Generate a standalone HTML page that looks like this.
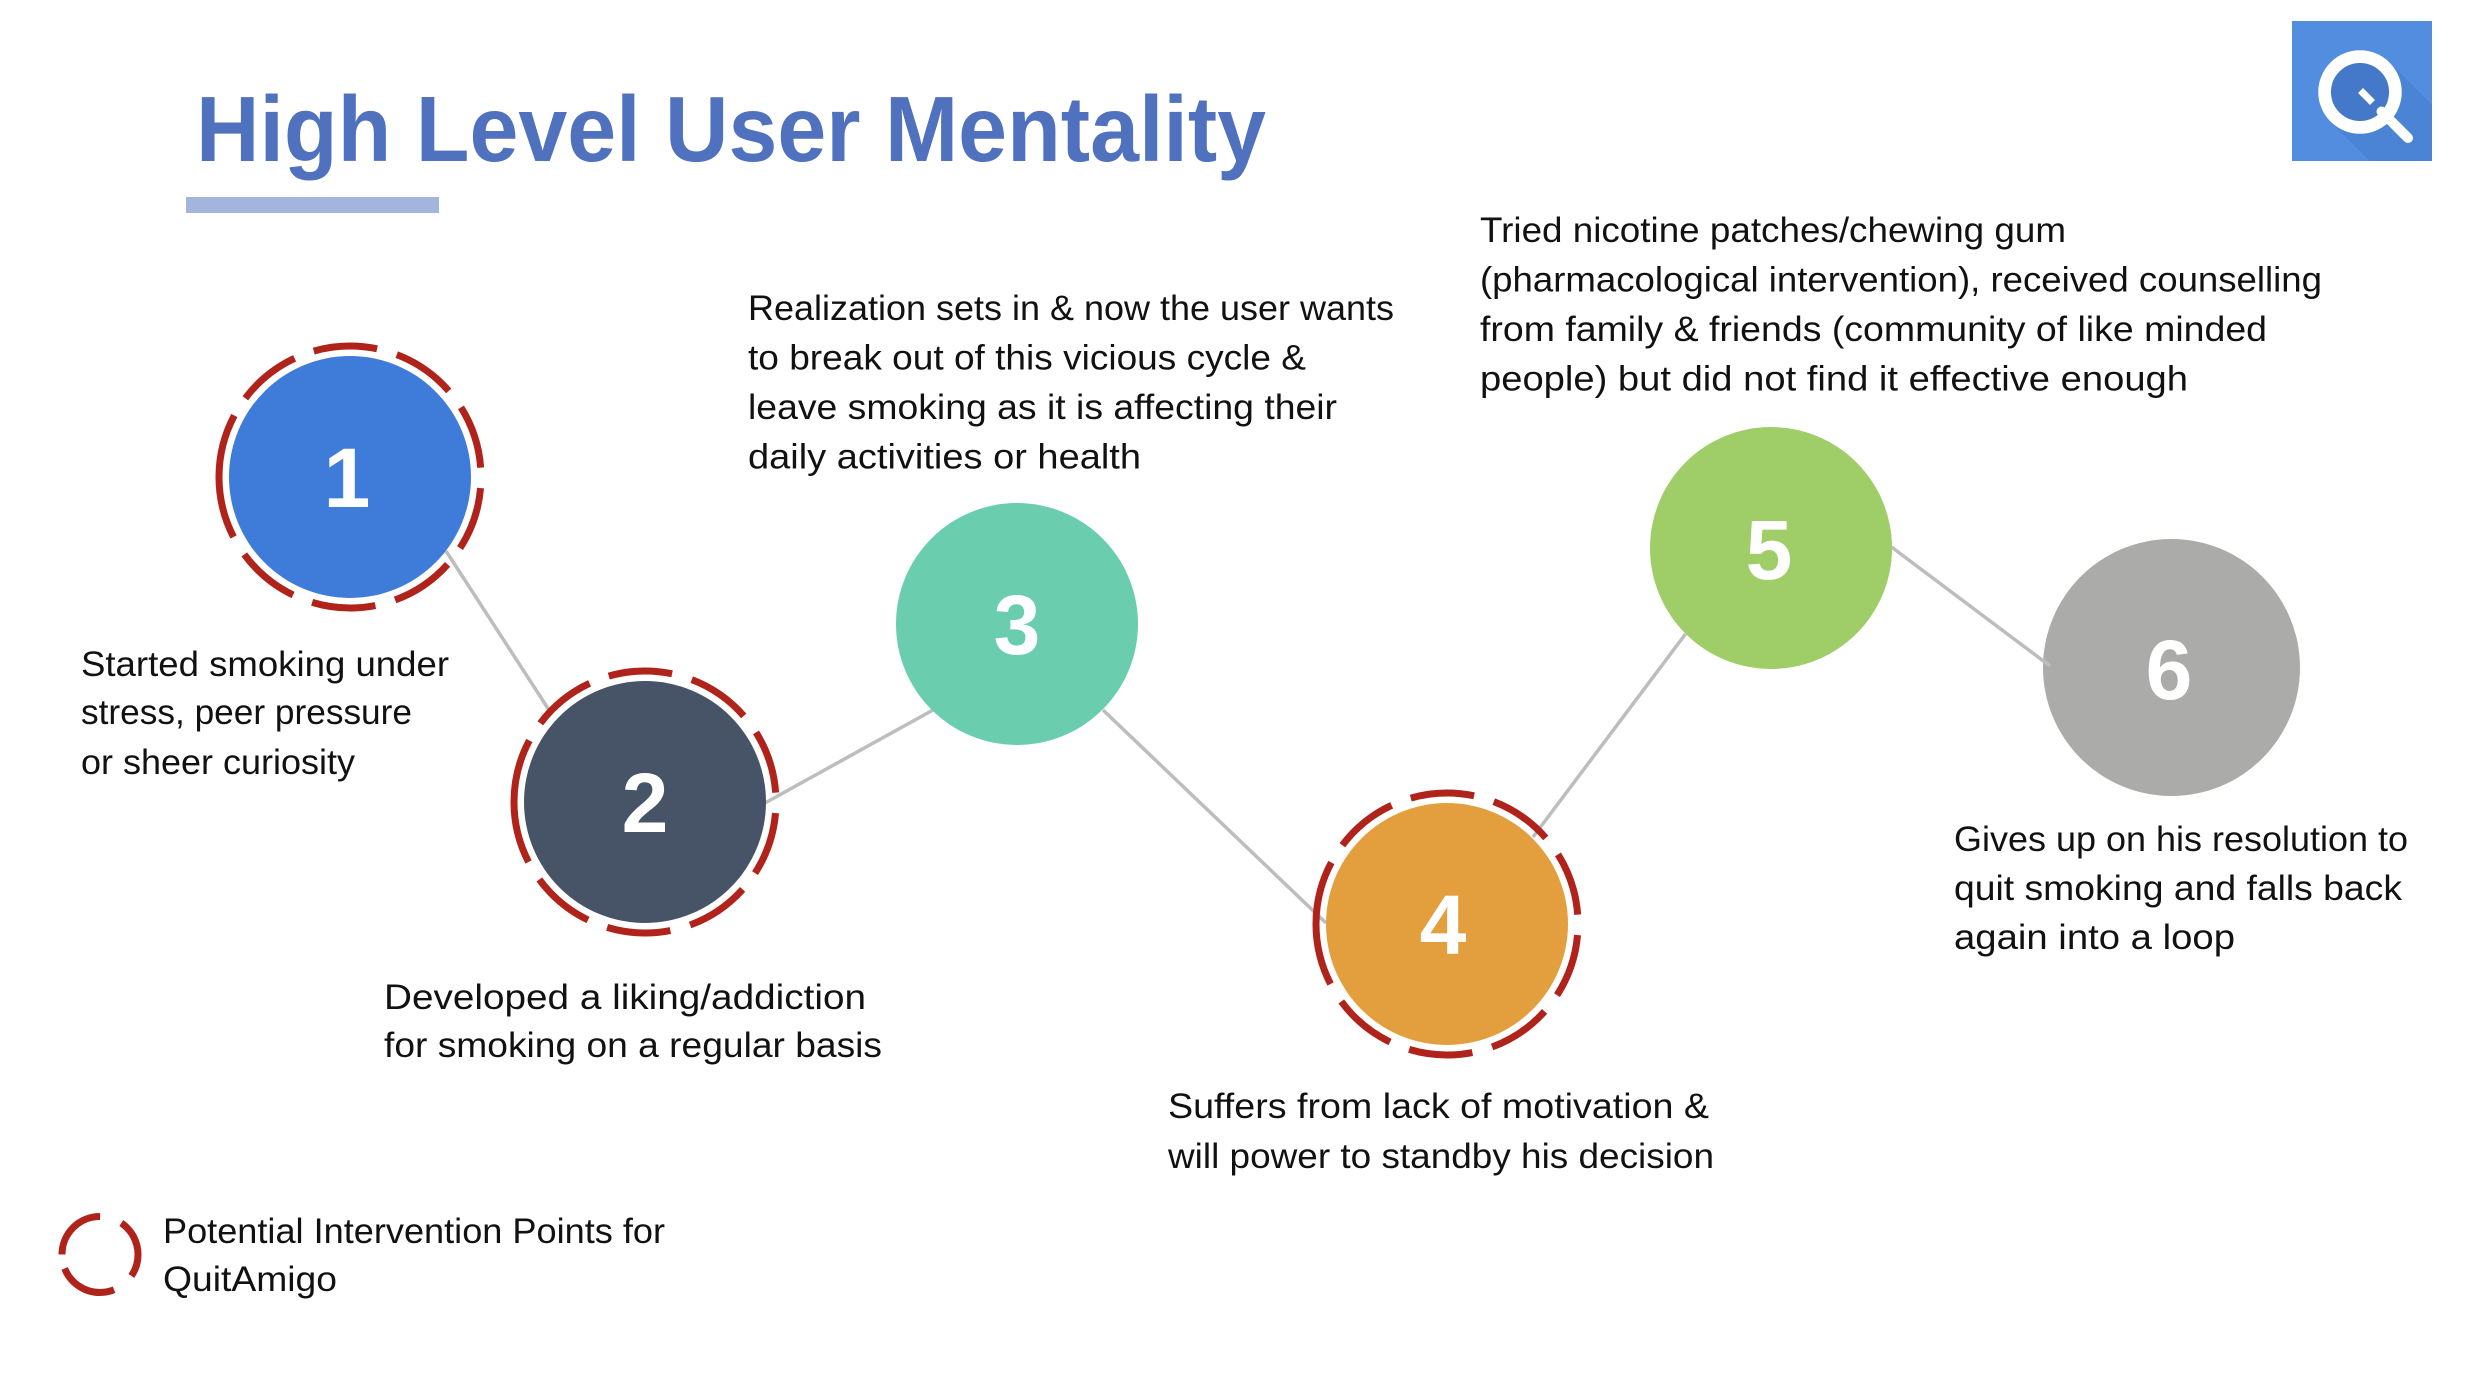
<!DOCTYPE html>
<html>
<head>
<meta charset="utf-8">
<style>
  html, body { margin: 0; padding: 0; background: #ffffff; }
  body { width: 2468px; height: 1376px; overflow: hidden; }
  svg { display: block; }
  .t { font-family: "Liberation Sans", "DejaVu Sans", sans-serif; font-size: 35px; fill: #111111; }
  .d { font-family: "Liberation Sans", "DejaVu Sans", sans-serif; font-size: 84px; font-weight: bold; fill: #ffffff; }
</style>
</head>
<body>
<svg width="2468" height="1376" viewBox="0 0 2468 1376" xmlns="http://www.w3.org/2000/svg">
  <rect x="0" y="0" width="2468" height="1376" fill="#ffffff"/>

  <!-- Title -->
  <text x="196" y="161" font-family="Liberation Sans, DejaVu Sans, sans-serif" font-size="93" font-weight="bold" fill="#5071BE" textLength="1070" lengthAdjust="spacingAndGlyphs">High Level User Mentality</text>
  <rect x="186" y="197" width="253" height="16" fill="#A3B5DC"/>

  <!-- Logo -->
  <rect x="2292" y="21" width="140" height="140" fill="#528DE0"/>
  <polygon points="2389.7,62.3 2432,104.6 2432,161 2369.6,161 2330.3,121.7" fill="#4B84D5"/>
  <circle cx="2360" cy="92" r="29" fill="#4479C9"/>
  <circle cx="2360" cy="92" r="35.4" fill="none" stroke="#ffffff" stroke-width="12.7"/>
  <line x1="2381.5" y1="111.5" x2="2408" y2="138" stroke="#ffffff" stroke-width="10" stroke-linecap="round"/>
  <line x1="2363" y1="93" x2="2370" y2="100" stroke="#ffffff" stroke-width="7" stroke-linecap="square"/>

  <!-- Connectors -->
  <g stroke="#BDBDBD" stroke-width="3.5" fill="none">
    <line x1="446" y1="551" x2="549" y2="710"/>
    <line x1="765" y1="803" x2="933" y2="710"/>
    <line x1="1103" y1="710" x2="1326" y2="923"/>
    <line x1="1533" y1="837" x2="1685.5" y2="634"/>
    <line x1="1891.5" y1="547" x2="2050" y2="666"/>
  </g>

  <!-- Circle 1 -->
  <circle cx="350" cy="477" r="121" fill="#3F7BD9"/>
  <path d="M219,477 A131,131 0 1 1 481,477 A131,131 0 1 1 219,477" fill="none" stroke="#B0231A" stroke-width="7" stroke-dasharray="64 20.5"/>
  <text class="d" x="347" y="507" text-anchor="middle">1</text>

  <!-- Circle 2 -->
  <circle cx="645" cy="802" r="121" fill="#475467"/>
  <path d="M514,802 A131,131 0 1 1 776,802 A131,131 0 1 1 514,802" fill="none" stroke="#B0231A" stroke-width="7" stroke-dasharray="64 20.5"/>
  <text class="d" x="645" y="832" text-anchor="middle">2</text>

  <!-- Circle 3 -->
  <circle cx="1017" cy="624" r="121" fill="#6ACDAE"/>
  <text class="d" x="1017" y="654" text-anchor="middle">3</text>

  <!-- Circle 4 -->
  <circle cx="1447" cy="924" r="121" fill="#E39F3D"/>
  <path d="M1316,924 A131,131 0 1 1 1578,924 A131,131 0 1 1 1316,924" fill="none" stroke="#B0231A" stroke-width="7" stroke-dasharray="64 20.5"/>
  <text class="d" x="1443" y="954" text-anchor="middle">4</text>

  <!-- Circle 5 -->
  <circle cx="1771" cy="548" r="121" fill="#9FCD68"/>
  <text class="d" x="1769" y="579" text-anchor="middle">5</text>

  <!-- Circle 6 -->
  <circle cx="2171.5" cy="667.5" r="128.5" fill="#ABABAA"/>
  <line x1="2043" y1="660" x2="2050" y2="666" stroke="#BDBDBD" stroke-width="3.5"/>
  <text class="d" x="2169" y="699" text-anchor="middle">6</text>

  <!-- Text block 1 -->
  <text class="t" x="81" y="676" textLength="368" lengthAdjust="spacingAndGlyphs">Started smoking under</text>
  <text class="t" x="81" y="724" textLength="331" lengthAdjust="spacingAndGlyphs">stress, peer pressure</text>
  <text class="t" x="81" y="774" textLength="274" lengthAdjust="spacingAndGlyphs">or sheer curiosity</text>

  <!-- Text block 2 -->
  <text class="t" x="384" y="1009" textLength="482" lengthAdjust="spacingAndGlyphs">Developed a liking/addiction</text>
  <text class="t" x="384" y="1057" textLength="498" lengthAdjust="spacingAndGlyphs">for smoking on a regular basis</text>

  <!-- Text block 3 -->
  <text class="t" x="748" y="320" textLength="646" lengthAdjust="spacingAndGlyphs">Realization sets in &amp; now the user wants</text>
  <text class="t" x="748" y="369.5" textLength="558" lengthAdjust="spacingAndGlyphs">to break out of this vicious cycle &amp;</text>
  <text class="t" x="748" y="419" textLength="589" lengthAdjust="spacingAndGlyphs">leave smoking as it is affecting their</text>
  <text class="t" x="748" y="468.5" textLength="393" lengthAdjust="spacingAndGlyphs">daily activities or health</text>

  <!-- Text block 4 -->
  <text class="t" x="1168" y="1118" textLength="541" lengthAdjust="spacingAndGlyphs">Suffers from lack of motivation &amp;</text>
  <text class="t" x="1168" y="1168" textLength="546" lengthAdjust="spacingAndGlyphs">will power to standby his decision</text>

  <!-- Text block 5 -->
  <text class="t" x="1480" y="242" textLength="586" lengthAdjust="spacingAndGlyphs">Tried nicotine patches/chewing gum</text>
  <text class="t" x="1480" y="291.5" textLength="842" lengthAdjust="spacingAndGlyphs">(pharmacological intervention), received counselling</text>
  <text class="t" x="1480" y="341" textLength="787" lengthAdjust="spacingAndGlyphs">from family &amp; friends (community of like minded</text>
  <text class="t" x="1480" y="390.5" textLength="708" lengthAdjust="spacingAndGlyphs">people) but did not find it effective enough</text>

  <!-- Text block 6 -->
  <text class="t" x="1954" y="851" textLength="454" lengthAdjust="spacingAndGlyphs">Gives up on his resolution to</text>
  <text class="t" x="1954" y="900" textLength="448" lengthAdjust="spacingAndGlyphs">quit smoking and falls back</text>
  <text class="t" x="1954" y="949" textLength="281" lengthAdjust="spacingAndGlyphs">again into a loop</text>

  <!-- Legend -->
  <path d="M62,1254.5 A38,38 0 1 1 138,1254.5 A38,38 0 1 1 62,1254.5" fill="none" stroke="#B0231A" stroke-width="7" stroke-dasharray="59.7 22.5"/>
  <text class="t" x="163" y="1243" textLength="502" lengthAdjust="spacingAndGlyphs">Potential Intervention Points for</text>
  <text class="t" x="163" y="1291" textLength="174" lengthAdjust="spacingAndGlyphs">QuitAmigo</text>
</svg>
</body>
</html>
